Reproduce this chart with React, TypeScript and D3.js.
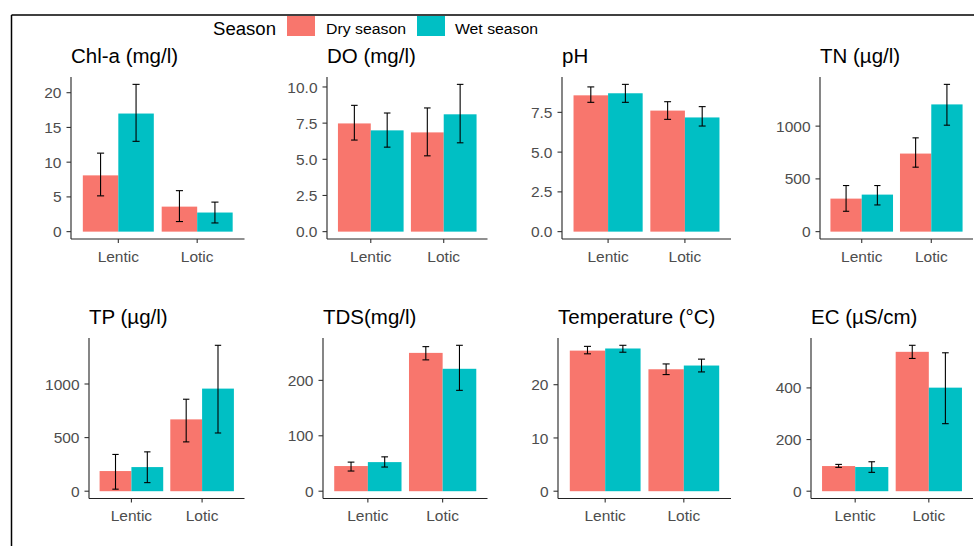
import React from "react";
import * as d3 from "d3";

// water quality means with lower / upper error limits, [Lentic, Lotic]
const categories = ["Lentic", "Lotic"];
const seasons = ["Dry season", "Wet season"];
const seasonColors = ["#F8766D", "#00BFC4"];
const titles = ["Chl-a (mg/l)", "DO (mg/l)", "pH", "TN (µg/l)", "TP (µg/l)", "TDS(mg/l)", "Temperature (°C)", "EC (µS/cm)"];

const dryMean = [[8.1, 3.6], [7.48, 6.86], [8.57, 7.61], [313, 740], [188, 670], [45.4, 249.6], [26.4, 22.9], [97.4, 539.7]];
const dryLow = [[5.15, 1.45], [6.33, 5.24], [8.13, 7.06], [193, 611], [19, 460], [36.4, 237], [25.8, 21.9], [92.3, 514]];
const dryHigh = [[11.3, 5.9], [8.73, 8.55], [9.1, 8.17], [437, 889], [343, 858], [52.5, 260.9], [27.2, 23.9], [103.8, 565]];

const wetMean = [[17.0, 2.75], [7.0, 8.11], [8.7, 7.18], [351, 1206], [225, 957], [52.5, 220.9], [26.8, 23.6], [93.6, 401]];
const wetLow = [[13.0, 1.25], [5.84, 6.14], [8.13, 6.64], [253, 1009], [80, 543], [43.6, 182], [26.1, 22.4], [73, 261.5]];
const wetHigh = [[21.2, 4.25], [8.2, 10.18], [9.26, 7.86], [437, 1396], [367, 1361], [62, 263.3], [27.4, 24.8], [114, 536]];

const yTicks = [[0, 5, 10, 15, 20], [0, 2.5, 5, 7.5, 10], [0, 2.5, 5, 7.5], [0, 500, 1000], [0, 500, 1000], [0, 100, 200], [0, 10, 20], [0, 200, 400]];

// panel frames (axis lines) in page pixels
const frames = [
  { left: 71, right: 244.5, top: 77, bottom: 239 },
  { left: 327, right: 487.5, top: 77, bottom: 239 },
  { left: 562, right: 731, top: 77, bottom: 239 },
  { left: 820, right: 973, top: 77, bottom: 239 },
  { left: 89, right: 244.5, top: 338, bottom: 498.5 },
  { left: 323, right: 487.5, top: 338, bottom: 498.5 },
  { left: 558, right: 731, top: 338, bottom: 498.5 },
  { left: 811, right: 973, top: 338, bottom: 498.5 },
];

const font = "'Liberation Sans', Arial, sans-serif";

const Panel = ({ i }: { i: number }) => {
  const f = frames[i];
  const series = [
    { mean: dryMean[i], low: dryLow[i], high: dryHigh[i] },
    { mean: wetMean[i], low: wetLow[i], high: wetHigh[i] },
  ];
  const ymax = d3.max(series.flatMap((s) => s.high)) as number;
  const y = d3.scaleLinear().domain([-0.05 * ymax, ymax * 1.05]).range([f.bottom, f.top]);
  // discrete axis: positions 1..n with 0.6 expansion
  const x = d3.scaleLinear().domain([0.4, categories.length + 0.6]).range([f.left, f.right]);
  const barW = 0.45;
  const decimals = yTicks[i].some((t) => t % 1 !== 0);
  const fmt = (t: number) => (decimals ? t.toFixed(1) : String(t));

  return (
    <g>
      <text x={f.left} y={f.top - 14} fontSize={20.5} fontFamily={font} fill="#000">
        {titles[i]}
      </text>
      {categories.map((c, ci) =>
        series.map((s, si) => {
          const x0 = ci + 1 - 0.45 + si * barW;
          return (
            <rect
              key={c + si}
              x={x(x0)}
              width={x(x0 + barW) - x(x0)}
              y={y(s.mean[ci])}
              height={y(0) - y(s.mean[ci])}
              fill={seasonColors[si]}
            />
          );
        })
      )}
      {categories.map((c, ci) =>
        series.map((s, si) => {
          const cx = x(ci + 1 - 0.45 + si * barW + barW / 2);
          const hw = (x(barW) - x(0)) * 0.1;
          return (
            <g key={"e" + c + si} stroke="#000" strokeWidth={1.1} fill="none">
              <line x1={cx} x2={cx} y1={y(s.low[ci])} y2={y(s.high[ci])} />
              <line x1={cx - hw} x2={cx + hw} y1={y(s.low[ci])} y2={y(s.low[ci])} />
              <line x1={cx - hw} x2={cx + hw} y1={y(s.high[ci])} y2={y(s.high[ci])} />
            </g>
          );
        })
      )}
      <line x1={f.left} x2={f.left} y1={f.top} y2={f.bottom} stroke="#222" strokeWidth={1.1} />
      <line x1={f.left} x2={f.right} y1={f.bottom} y2={f.bottom} stroke="#222" strokeWidth={1.1} />
      {yTicks[i].map((t) => (
        <g key={t}>
          <line x1={f.left - 4.5} x2={f.left} y1={y(t)} y2={y(t)} stroke="#333" strokeWidth={1.1} />
          <text x={f.left - 9.5} y={y(t)} dy="0.36em" textAnchor="end" fontSize={15.5} fontFamily={font} fill="#4D4D4D">
            {fmt(t)}
          </text>
        </g>
      ))}
      {categories.map((c, ci) => (
        <g key={c}>
          <line x1={x(ci + 1)} x2={x(ci + 1)} y1={f.bottom} y2={f.bottom + 4} stroke="#333" strokeWidth={1.1} />
          <text x={x(ci + 1)} y={f.bottom + 22.5} textAnchor="middle" fontSize={15.5} fontFamily={font} fill="#4D4D4D">
            {c}
          </text>
        </g>
      ))}
    </g>
  );
};

const legendItems = [
  { key: 287, text: 326, width: 80 },
  { key: 417, text: 455, width: 83 },
];

export default function App() {
  return (
    <svg width={974} height={546} style={{ position: "absolute", left: 0, top: 0, background: "#fff" }}>
      <rect width={974} height={546} fill="#fff" />
      <line x1={11.5} x2={974} y1={15} y2={15} stroke="#000" strokeWidth={1.5} />
      <line x1={11.5} x2={11.5} y1={15} y2={546} stroke="#000" strokeWidth={1.5} />
      <text x={213} y={34.5} fontSize={18} fontFamily={font} textLength={63} lengthAdjust="spacingAndGlyphs">
        Season
      </text>
      {seasons.map((s, si) => (
        <g key={s}>
          <rect x={legendItems[si].key} y={16} width={28} height={20} fill={seasonColors[si]} />
          <text
            x={legendItems[si].text}
            y={33.5}
            fontSize={14}
            fontFamily={font}
            textLength={legendItems[si].width}
            lengthAdjust="spacingAndGlyphs"
          >
            {s}
          </text>
        </g>
      ))}
      {titles.map((_, i) => (
        <Panel key={i} i={i} />
      ))}
    </svg>
  );
}
